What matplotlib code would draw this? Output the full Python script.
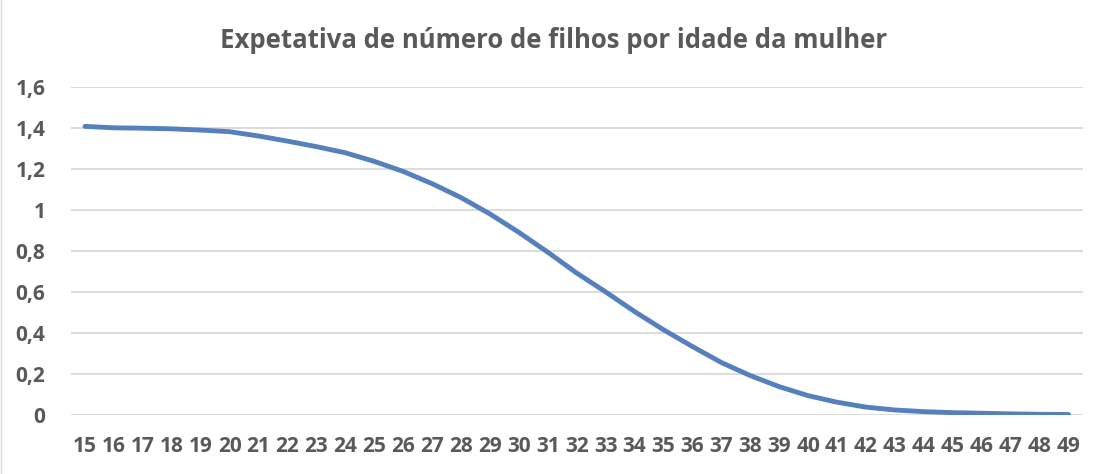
import matplotlib.pyplot as plt
import numpy as np

ages = list(range(15, 50))
filhos = [1.409, 1.402, 1.400, 1.397, 1.391, 1.383, 1.362, 1.337, 1.310, 1.280,
          1.238, 1.189, 1.129, 1.061, 0.981, 0.891, 0.794, 0.692, 0.600, 0.504,
          0.415, 0.333, 0.255, 0.191, 0.137, 0.093, 0.061, 0.037, 0.023, 0.015,
          0.010, 0.007, 0.004, 0.002, 0.001]
yticks = [0, 0.2, 0.4, 0.6, 0.8, 1.0, 1.2, 1.4, 1.6]
ytick_labels = ["0", "0,2", "0,4", "0,6", "0,8", "1", "1,2", "1,4", "1,6"]

grey = "#595959"
plt.rcParams["font.family"] = ["Open Sans", "DejaVu Sans"]

fig = plt.figure(figsize=(11.08, 4.74), dpi=100)
ax = fig.add_axes([70.5 / 1108, 59.3 / 474, (1083 - 70.5) / 1108, (414.7 - 87.3) / 474])

x = np.arange(len(ages))
ax.plot(x, filhos, color="#5580BD", linewidth=3.5, solid_capstyle="round", zorder=3)

ax.set_xlim(-0.5, len(ages) - 0.5)
ax.set_ylim(0, 1.6)
ax.set_yticks(yticks)
ax.set_yticklabels(ytick_labels)
ax.set_xticks(x)
ax.set_xticklabels([str(a) for a in ages])

ax.grid(axis="y", color="#D9D9D9", linewidth=1.3)
ax.set_axisbelow(True)
for s in ax.spines.values():
    s.set_visible(False)
ax.tick_params(axis="both", length=0, labelcolor=grey, labelsize=15)
ax.tick_params(axis="y", pad=18)
ax.tick_params(axis="x", pad=15)
for lbl in ax.get_xticklabels() + ax.get_yticklabels():
    lbl.set_fontweight("bold")

fig.text(0.5, 1 - 40 / 474, "Expetativa de número de filhos por idade da mulher",
         ha="center", va="center", fontsize=18.5, fontweight="bold", color=grey)

fig.add_artist(plt.Line2D([0.5 / 1108, 0.5 / 1108], [0, 1], color="#D9D9D9", linewidth=1))

fig.savefig("out.png", dpi=100)
